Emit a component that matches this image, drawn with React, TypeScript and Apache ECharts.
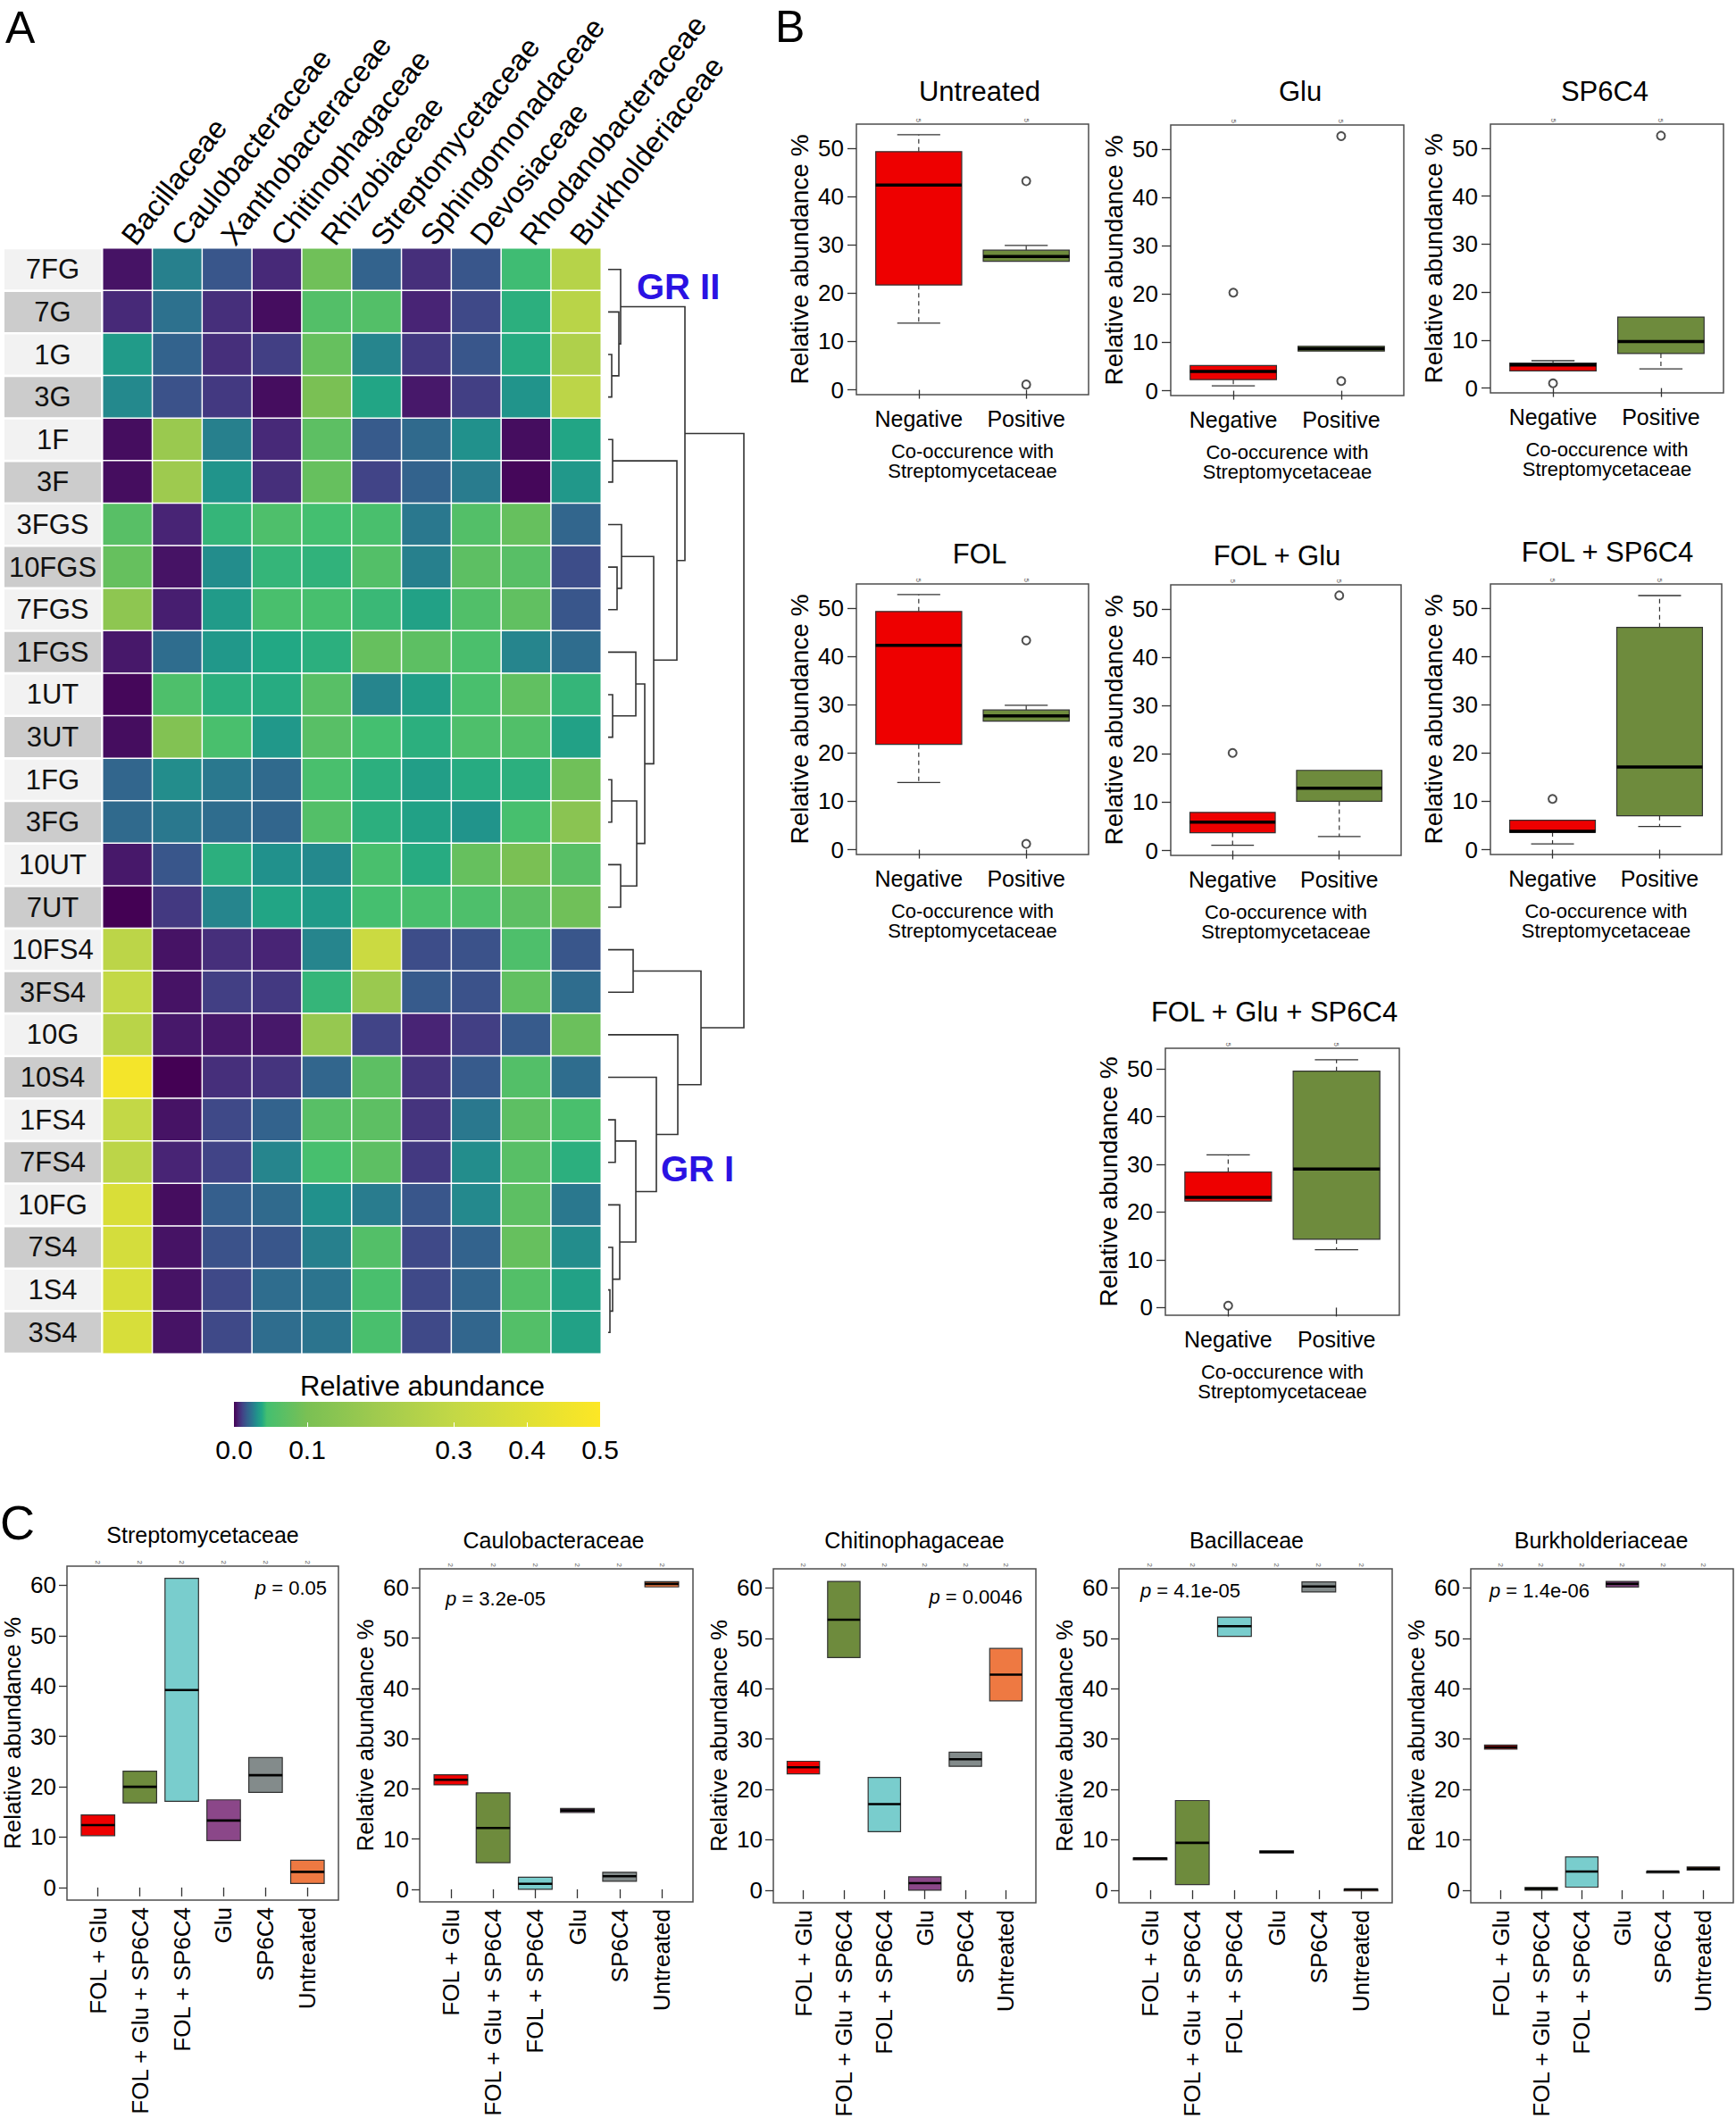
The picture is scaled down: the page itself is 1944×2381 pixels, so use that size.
import React, { useEffect, useRef } from 'react';
import * as echarts from 'echarts';

const FONT = '"Liberation Sans", Arial, Helvetica, sans-serif';

// ---------------- Panel A: heatmap ----------------
const FAMILIES = ['Bacillaceae', 'Caulobacteraceae', 'Xanthobacteraceae', 'Chitinophagaceae', 'Rhizobiaceae',
  'Streptomycetaceae', 'Sphingomonadaceae', 'Devosiaceae', 'Rhodanobacteraceae', 'Burkholderiaceae'];
const SAMPLES = ['7FG', '7G', '1G', '3G', '1F', '3F', '3FGS', '10FGS', '7FGS', '1FGS', '1UT', '3UT', '1FG', '3FG',
  '10UT', '7UT', '10FS4', '3FS4', '10G', '10S4', '1FS4', '7FS4', '10FG', '7S4', '1S4', '3S4'];
const ABUNDANCE = [
  [0.003, 0.027, 0.016, 0.007, 0.09, 0.019, 0.008, 0.016, 0.044, 0.26],
  [0.007, 0.023, 0.008, 0.002, 0.06, 0.06, 0.006, 0.013, 0.04, 0.27],
  [0.034, 0.019, 0.008, 0.011, 0.08, 0.028, 0.01, 0.016, 0.039, 0.24],
  [0.029, 0.015, 0.01, 0.002, 0.1, 0.037, 0.004, 0.011, 0.032, 0.28],
  [0.002, 0.18, 0.027, 0.007, 0.07, 0.017, 0.021, 0.031, 0.002, 0.037],
  [0.002, 0.19, 0.032, 0.008, 0.08, 0.012, 0.019, 0.026, 0.001, 0.033],
  [0.065, 0.006, 0.042, 0.055, 0.045, 0.05, 0.025, 0.06, 0.08, 0.02],
  [0.08, 0.003, 0.03, 0.042, 0.041, 0.06, 0.027, 0.07, 0.065, 0.014],
  [0.15, 0.005, 0.034, 0.05, 0.048, 0.043, 0.036, 0.058, 0.075, 0.016],
  [0.004, 0.022, 0.033, 0.038, 0.04, 0.08, 0.07, 0.052, 0.028, 0.022],
  [0.001, 0.055, 0.04, 0.039, 0.065, 0.028, 0.035, 0.05, 0.075, 0.042],
  [0.002, 0.12, 0.05, 0.033, 0.065, 0.045, 0.04, 0.055, 0.058, 0.036],
  [0.02, 0.03, 0.025, 0.021, 0.05, 0.04, 0.035, 0.039, 0.04, 0.09],
  [0.021, 0.025, 0.022, 0.02, 0.06, 0.04, 0.036, 0.032, 0.048, 0.14],
  [0.004, 0.016, 0.04, 0.031, 0.029, 0.05, 0.039, 0.08, 0.1, 0.065],
  [0.0, 0.01, 0.028, 0.037, 0.034, 0.046, 0.05, 0.055, 0.07, 0.09],
  [0.28, 0.003, 0.008, 0.006, 0.028, 0.33, 0.014, 0.015, 0.055, 0.016],
  [0.3, 0.003, 0.011, 0.01, 0.042, 0.18, 0.017, 0.015, 0.075, 0.022],
  [0.27, 0.004, 0.004, 0.004, 0.17, 0.012, 0.006, 0.011, 0.017, 0.085],
  [0.47, 0.0, 0.008, 0.009, 0.02, 0.07, 0.009, 0.017, 0.06, 0.022],
  [0.3, 0.003, 0.013, 0.019, 0.065, 0.07, 0.009, 0.025, 0.07, 0.05],
  [0.28, 0.006, 0.012, 0.028, 0.048, 0.07, 0.01, 0.03, 0.065, 0.04],
  [0.38, 0.002, 0.018, 0.021, 0.031, 0.026, 0.016, 0.029, 0.07, 0.025],
  [0.36, 0.003, 0.015, 0.016, 0.027, 0.06, 0.013, 0.019, 0.08, 0.03],
  [0.37, 0.003, 0.013, 0.022, 0.024, 0.05, 0.013, 0.02, 0.06, 0.036],
  [0.37, 0.003, 0.013, 0.022, 0.024, 0.05, 0.013, 0.02, 0.06, 0.036],
];
// hierarchical clustering merges: [childA, childB, height]; leaves 0..25, new nodes numbered from 26
const DENDRO_MERGES = [
  [2, 3, 4], [1, 26, 12], [0, 27, 14], [4, 5, 5], [7, 8, 10], [6, 30, 15], [10, 11, 5], [9, 32, 31],
  [12, 13, 4], [14, 15, 14], [34, 35, 32], [33, 36, 41], [31, 37, 51], [29, 38, 77], [28, 39, 86],
  [16, 17, 28], [24, 25, 2], [23, 42, 5], [22, 43, 13], [20, 21, 8], [45, 44, 31], [19, 46, 54],
  [18, 47, 78], [41, 48, 104], [40, 49, 152],
];
const CMAP_POS = [0, 0.006, 0.012, 0.018, 0.025, 0.031, 0.038, 0.045, 0.1, 0.2, 0.3, 0.4, 0.5];
const CMAP_COL = ['#440154', '#482475', '#414487', '#355f8d', '#2a788e', '#21918c', '#22a884', '#44bf70',
  '#7ac054', '#a2cb4e', '#c3d846', '#dfe035', '#fde725'];
const LEGEND_TICKS = [0, 0.1, 0.3, 0.4, 0.5];

// ---------------- Panel B: co-occurrence boxplots ----------------
const B_PANELS = ['Untreated', 'Glu', 'SP6C4', 'FOL', 'FOL + Glu', 'FOL + SP6C4', 'FOL + Glu + SP6C4'];
const B_GROUPS = ['Negative', 'Positive'];
// [min, q1, median, q3, max]
const B_BOXES = [
  [[13.8, 21.7, 42.4, 49.3, 52.8], [26.6, 26.6, 27.6, 28.9, 29.9]],
  [[1.0, 2.3, 4.0, 5.2, 5.2], [8.2, 8.2, 8.7, 9.2, 9.2]],
  [[3.6, 3.6, 4.8, 5.2, 5.7], [4.0, 7.2, 9.7, 14.8, 14.8]],
  [[13.9, 21.8, 42.3, 49.3, 52.8], [26.6, 26.6, 27.7, 28.9, 29.9]],
  [[1.1, 3.7, 5.9, 7.9, 7.9], [2.9, 10.2, 12.9, 16.6, 16.6]],
  [[1.2, 3.6, 3.8, 6.1, 6.1], [4.8, 7.0, 17.1, 46.0, 52.6]],
  [[22.3, 22.3, 23.1, 28.4, 32.0], [12.1, 14.3, 29.0, 49.5, 51.9]],
];
const B_OUTLIERS = [
  [[], [43.2, 1.1]],
  [[20.3], [52.7, 2.0]],
  [[1.0], [52.6]],
  [[], [43.3, 1.2]],
  [[20.2], [52.8]],
  [[10.5], []],
  [[0.4], []],
];
const B_N = ['5', '5'];
const B_TICKS = [0, 10, 20, 30, 40, 50];

// ---------------- Panel C: treatment boxplots ----------------
const C_PANELS = ['Streptomycetaceae', 'Caulobacteraceae', 'Chitinophagaceae', 'Bacillaceae', 'Burkholderiaceae'];
const C_GROUPS = ['FOL + Glu', 'FOL + Glu + SP6C4', 'FOL + SP6C4', 'Glu', 'SP6C4', 'Untreated'];
const C_PVALUES = ['0.05', '3.2e-05', '0.0046', '4.1e-05', '1.4e-06'];
// [low, median, high]
const C_BOXES = [
  [[10.3, 12.4, 14.4], [16.8, 20.0, 23.1], [17.1, 39.2, 61.4], [9.3, 13.3, 17.4], [18.9, 22.3, 25.8], [0.8, 3.1, 5.4]],
  [[20.8, 21.8, 22.8], [5.3, 12.2, 19.2], [0.0, 1.1, 2.4], [15.3, 15.7, 16.1], [1.6, 2.6, 3.4], [60.2, 60.8, 61.25]],
  [[23.1, 24.4, 25.6], [46.2, 53.7, 61.3], [11.6, 17.1, 22.4], [0.0, 1.4, 2.65], [24.6, 26.0, 27.4], [37.6, 42.8, 48.0]],
  [[6.2, 6.3, 6.4], [1.1, 9.4, 17.8], [50.4, 52.4, 54.2], [7.4, 7.6, 7.8], [59.2, 60.3, 61.2], [0.1, 0.15, 0.2]],
  [[28.0, 28.4, 28.8], [0.0, 0.3, 0.55], [0.6, 3.7, 6.6], [60.2, 60.8, 61.3], [3.65, 3.7, 3.75], [4.0, 4.3, 4.6]],
];
const C_N = '2';
const C_TICKS = [0, 10, 20, 30, 40, 50, 60];

// ---------------- styling / layout ----------------
const B_COLORS = ['#ee0000', '#6e8b3d'];
const C_COLORS = ['#ee0000', '#6e8b3d', '#79cdcd', '#8b4789', '#838b8b', '#ee7942'];
const B_LAYOUT = [
  { left: 959, top: 139, width: 260, height: 303, tx: 1097, ty: 102, ymin: -1, ymax: 55 },
  { left: 1311, top: 140, width: 261, height: 303, tx: 1456, ty: 102, ymin: -1, ymax: 55 },
  { left: 1669, top: 139, width: 261, height: 301, tx: 1797, ty: 102, ymin: -1, ymax: 55 },
  { left: 959, top: 654, width: 260, height: 303, tx: 1097, ty: 620, ymin: -1, ymax: 55 },
  { left: 1311, top: 655, width: 258, height: 303, tx: 1430, ty: 622, ymin: -1, ymax: 55 },
  { left: 1669, top: 654, width: 259, height: 303, tx: 1800, ty: 618, ymin: -1, ymax: 55 },
  { left: 1305, top: 1174, width: 262, height: 299, tx: 1427, ty: 1133, ymin: -1.6, ymax: 54.3 },
];
const C_LAYOUT = [
  { left: 73, top: 1754, width: 306, height: 374, tx: 227, ty: 1719, px: 366, py: 1778, pa: 'right' },
  { left: 470, top: 1757, width: 306, height: 373, tx: 620, ty: 1725, px: 499, py: 1790, pa: 'left' },
  { left: 866, top: 1757, width: 294, height: 374, tx: 1024, ty: 1725, px: 1145, py: 1788, pa: 'right' },
  { left: 1253, top: 1757, width: 306, height: 374, tx: 1396, ty: 1725, px: 1277, py: 1781, pa: 'left' },
  { left: 1647, top: 1757, width: 294, height: 374, tx: 1793, ty: 1725, px: 1668, py: 1781, pa: 'left' },
];

function hexRgb(h: string) {
  const n = parseInt(h.slice(1), 16);
  return [(n >> 16) & 255, (n >> 8) & 255, n & 255];
}
function cmap(v: number) {
  const k = Math.max(0, Math.min(v, CMAP_POS[CMAP_POS.length - 1]));
  let i = 0;
  while (i < CMAP_POS.length - 2 && k > CMAP_POS[i + 1]) i++;
  const t = (k - CMAP_POS[i]) / (CMAP_POS[i + 1] - CMAP_POS[i]);
  const a = hexRgb(CMAP_COL[i]);
  const b = hexRgb(CMAP_COL[i + 1]);
  return `rgb(${a.map((x, j) => Math.round(x + (b[j] - x) * t)).join(',')})`;
}

const boxRender = (half: number, medW: number, whisk: boolean) => (params: any, api: any) => {
  const x = api.value(0);
  const v = [1, 2, 3, 4, 5].map((i) => api.value(i) as number);
  const c = (xx: number, yy: number) => api.coord([xx, yy]);
  const stroke = '#333';
  const kids: any[] = [];
  if (whisk) {
    const pairs = [[v[3], v[4]], [v[1], v[0]]];
    for (const [a, b] of pairs) {
      if (Math.abs(a - b) > 1e-9) {
        const p1 = c(x, a), p2 = c(x, b);
        kids.push({ type: 'line', shape: { x1: p1[0], y1: p1[1], x2: p2[0], y2: p2[1] }, style: { stroke, lineWidth: 1.2, lineDash: [5, 4] } });
        const q1 = c(x - half / 2, b), q2 = c(x + half / 2, b);
        kids.push({ type: 'line', shape: { x1: q1[0], y1: q1[1], x2: q2[0], y2: q2[1] }, style: { stroke, lineWidth: 1.3 } });
      }
    }
  }
  const tl = c(x - half, v[3]), br = c(x + half, v[1]);
  kids.push({
    type: 'rect',
    shape: { x: tl[0], y: tl[1], width: br[0] - tl[0], height: Math.max(br[1] - tl[1], 2) },
    style: { fill: api.visual('color'), stroke, lineWidth: 1.2 },
  });
  const m1 = c(x - half, v[2]), m2 = c(x + half, v[2]);
  kids.push({ type: 'line', shape: { x1: m1[0], y1: m1[1], x2: m2[0], y2: m2[1] }, style: { stroke: '#000', lineWidth: medW } });
  return { type: 'group', children: kids };
};

function buildOption() {
  const grid: any[] = [];
  const xAxis: any[] = [];
  const yAxis: any[] = [];
  const series: any[] = [];
  const graphic: any[] = [];
  const txt = (text: string, x: number, y: number, size: number, align = 'center', extra: any = {}) =>
    graphic.push({
      type: 'text', x, y, silent: true,
      style: {
        text, fontSize: size, fontFamily: FONT, fill: '#000',
        align, textAlign: align, verticalAlign: 'middle', textVerticalAlign: 'middle', ...extra,
      },
    });

  // ---- heatmap
  grid.push({ left: 115, top: 278, width: 558, height: 1238 });
  xAxis.push({
    gridIndex: 0, type: 'category', data: FAMILIES, position: 'top',
    axisLine: { show: false }, axisTick: { show: false }, splitLine: { show: false },
    axisLabel: { interval: 0, rotate: -52, margin: 8, fontSize: 33, fontFamily: FONT, color: '#000' },
  });
  const richBox = (bg: string) => ({
    backgroundColor: bg, width: 108, height: 45, lineHeight: 45, align: 'center',
    fontSize: 31, fontFamily: FONT, color: '#111',
  });
  yAxis.push({
    gridIndex: 0, type: 'category', data: SAMPLES, inverse: true,
    axisLine: { show: false }, axisTick: { show: false }, splitLine: { show: false },
    axisLabel: {
      interval: 0, margin: 2,
      formatter: (v: string, i: number) => `{${i % 2 ? 'd' : 'l'}|${v}}`,
      rich: { l: richBox('#f2f2f2'), d: richBox('#cccccc') },
    },
  });
  const heat: any[] = [];
  ABUNDANCE.forEach((row, r) => row.forEach((v, c) => heat.push([c, r, v])));
  series.push({
    type: 'heatmap', xAxisIndex: 0, yAxisIndex: 0, data: heat,
    itemStyle: { borderColor: '#ffffff', borderWidth: 1.5 }, emphasis: { disabled: true },
  });

  // ---- dendrogram
  grid.push({ left: 681, top: 278, width: 152, height: 1238 });
  xAxis.push({ gridIndex: 1, type: 'value', min: 0, max: 152, show: false });
  yAxis.push({ gridIndex: 1, type: 'value', min: -0.5, max: SAMPLES.length - 0.5, inverse: true, show: false });
  const nodeH = SAMPLES.map(() => 0);
  const nodeY = SAMPLES.map((_, i) => i);
  const segs = DENDRO_MERGES.map(([a, b, h]) => {
    const s = [nodeH[a], nodeY[a], nodeH[b], nodeY[b], h];
    nodeH.push(h);
    nodeY.push((nodeY[a] + nodeY[b]) / 2);
    return s;
  });
  series.push({
    type: 'custom', xAxisIndex: 1, yAxisIndex: 1, data: segs, encode: { x: [0, 2, 4], y: [1, 3] }, clip: false,
    renderItem: (params: any, api: any) => {
      const p1 = api.coord([api.value(0), api.value(1)]);
      const p2 = api.coord([api.value(4), api.value(1)]);
      const p3 = api.coord([api.value(4), api.value(3)]);
      const p4 = api.coord([api.value(2), api.value(3)]);
      return { type: 'polyline', shape: { points: [p1, p2, p3, p4] }, style: { stroke: '#333', lineWidth: 1.6, fill: null } };
    },
  });
  txt('GR II', 713, 321, 40, 'left', { fontWeight: 'bold', fill: '#2a12e3' });
  txt('GR I', 740, 1309, 40, 'left', { fontWeight: 'bold', fill: '#2a12e3' });

  // ---- colour bar
  grid.push({ left: 262, top: 1570, width: 410, height: 28 });
  xAxis.push({
    gridIndex: 2, type: 'value', min: 0, max: 0.5, interval: 0.1, z: 5,
    axisLine: { show: false }, splitLine: { show: false },
    axisTick: { show: true, inside: true, length: 5, customValues: [0.1, 0.3, 0.4], lineStyle: { color: '#ffffff', width: 1 } },
    axisLabel: {
      showMinLabel: true, showMaxLabel: true, margin: 10, fontSize: 30, fontFamily: FONT, color: '#000',
      formatter: (v: number) => (LEGEND_TICKS.some((t) => Math.abs(t - v) < 1e-6) ? v.toFixed(1) : ''),
    },
  });
  yAxis.push({ gridIndex: 2, type: 'value', min: 0, max: 1, show: false });
  const stops = CMAP_POS.map((p, i) => ({ offset: p / CMAP_POS[CMAP_POS.length - 1], color: CMAP_COL[i] }));
  series.push({
    type: 'custom', xAxisIndex: 2, yAxisIndex: 2, data: [[0, CMAP_POS[CMAP_POS.length - 1]]], encode: { x: [0, 1] },
    renderItem: (params: any, api: any) => {
      const a = api.coord([api.value(0), 1]);
      const b = api.coord([api.value(1), 0]);
      return {
        type: 'rect', shape: { x: a[0], y: a[1], width: b[0] - a[0], height: b[1] - a[1] },
        style: { fill: new echarts.graphic.LinearGradient(0, 0, 1, 0, stops) },
      };
    },
  });
  txt('Relative abundance', 473, 1552, 31);

  // ---- panel B
  B_PANELS.forEach((name, p) => {
    const L = B_LAYOUT[p];
    grid.push({ left: L.left, top: L.top, width: L.width, height: L.height, show: true, borderColor: '#4d4d4d', borderWidth: 1.5, backgroundColor: 'rgba(0,0,0,0)' });
    const g = grid.length - 1;
    const xb = xAxis.length;
    const cats = B_GROUPS.map((_, i) => i + 1);
    xAxis.push({
      gridIndex: g, type: 'value', min: 0.42, max: B_GROUPS.length + 0.58,
      axisLine: { show: false }, splitLine: { show: false },
      axisTick: { show: true, customValues: cats, length: 10, lineStyle: { color: '#333', width: 1.3 } },
      axisLabel: { customValues: cats, formatter: (v: number) => B_GROUPS[Math.round(v) - 1], fontSize: 25, fontFamily: FONT, color: '#000', margin: 14 },
      name: 'Co-occurence with\nStreptomycetaceae', nameLocation: 'middle', nameGap: 52,
      nameTextStyle: { fontSize: 22, lineHeight: 22, fontFamily: FONT, color: '#000' },
    });
    xAxis.push({
      gridIndex: g, type: 'value', position: 'top', min: 0.42, max: B_GROUPS.length + 0.58,
      axisLine: { show: false }, splitLine: { show: false }, axisTick: { show: false },
      axisLabel: { customValues: cats, formatter: (v: number) => B_N[Math.round(v) - 1], fontSize: 8, rotate: 90, margin: 2, color: '#555', fontFamily: FONT },
    });
    const yi = yAxis.length;
    yAxis.push({
      gridIndex: g, type: 'value', min: L.ymin, max: L.ymax,
      axisLine: { show: false }, splitLine: { show: false },
      axisTick: { show: true, customValues: B_TICKS, length: 10, lineStyle: { color: '#333', width: 1.3 } },
      axisLabel: { customValues: B_TICKS, fontSize: 26, fontFamily: FONT, color: '#000', margin: 14 },
      name: 'Relative abundance %', nameLocation: 'middle', nameRotate: 90, nameGap: 50,
      nameTextStyle: { fontSize: 28, fontFamily: FONT, color: '#000' },
    });
    series.push({
      type: 'custom', xAxisIndex: xb, yAxisIndex: yi, clip: false, encode: { x: 0, y: [1, 2, 3, 4, 5] },
      renderItem: boxRender(0.4, 3.5, true),
      data: B_BOXES[p].map((b, k) => ({ value: [k + 1, ...b], itemStyle: { color: B_COLORS[k] } })),
    });
    series.push({
      type: 'scatter', xAxisIndex: xb, yAxisIndex: yi, symbol: 'emptyCircle', symbolSize: 9,
      itemStyle: { color: '#222', borderWidth: 1.2 },
      data: B_OUTLIERS[p].flatMap((arr, k) => arr.map((v) => [k + 1, v])),
    });
    txt(name, L.tx, L.ty, 31);
  });

  // ---- panel C
  C_PANELS.forEach((name, p) => {
    const L = C_LAYOUT[p];
    grid.push({ left: L.left, top: L.top, width: L.width, height: L.height, show: true, borderColor: '#4d4d4d', borderWidth: 1.5, backgroundColor: 'rgba(0,0,0,0)' });
    const g = grid.length - 1;
    const xb = xAxis.length;
    const cats = C_GROUPS.map((_, i) => i + 1);
    xAxis.push({
      gridIndex: g, type: 'value', min: 0.26, max: C_GROUPS.length + 0.74,
      axisLine: { show: false }, splitLine: { show: false },
      axisTick: { show: true, customValues: cats, length: 10, lineStyle: { color: '#333', width: 1.3 } },
      axisLabel: { customValues: cats, formatter: (v: number) => C_GROUPS[Math.round(v) - 1], rotate: 90, fontSize: 26, fontFamily: FONT, color: '#000', margin: 8 },
    });
    xAxis.push({
      gridIndex: g, type: 'value', position: 'top', min: 0.26, max: C_GROUPS.length + 0.74,
      axisLine: { show: false }, splitLine: { show: false }, axisTick: { show: false },
      axisLabel: { customValues: cats, formatter: () => C_N, fontSize: 8, rotate: 90, margin: 2, color: '#555', fontFamily: FONT },
    });
    const yi = yAxis.length;
    yAxis.push({
      gridIndex: g, type: 'value', min: -2.5, max: 63.8,
      axisLine: { show: false }, splitLine: { show: false },
      axisTick: { show: true, customValues: C_TICKS, length: 9, lineStyle: { color: '#333', width: 1.3 } },
      axisLabel: { customValues: C_TICKS, fontSize: 26, fontFamily: FONT, color: '#000', margin: 12 },
      name: 'Relative abundance %', nameLocation: 'middle', nameRotate: 90, nameGap: 48,
      nameTextStyle: { fontSize: 26, fontFamily: FONT, color: '#000' },
    });
    series.push({
      type: 'custom', xAxisIndex: xb, yAxisIndex: yi, clip: false, encode: { x: 0, y: [1, 2, 3, 4, 5] },
      renderItem: boxRender(0.4, 2.6, false),
      data: C_BOXES[p].map((b, k) => ({ value: [k + 1, b[0], b[0], b[1], b[2], b[2]], itemStyle: { color: C_COLORS[k] } })),
    });
    txt(name, L.tx, L.ty, 25);
    graphic.push({
      type: 'text', x: L.px, y: L.py, silent: true,
      style: {
        text: `{i|p} = ${C_PVALUES[p]}`, fontSize: 22, fontFamily: FONT, fill: '#000',
        align: L.pa, textAlign: L.pa, verticalAlign: 'middle', textVerticalAlign: 'middle',
        rich: { i: { fontStyle: 'italic', fontSize: 22, fontFamily: FONT, fill: '#000', color: '#000' } },
      },
    });
  });

  // panel letters
  txt('A', 6, 31, 50, 'left');
  txt('B', 868, 30, 50, 'left');
  txt('C', 0, 1705, 54, 'left');

  const colors = Array.from({ length: 501 }, (_, i) => cmap(i / 1000));
  return {
    animation: false,
    backgroundColor: '#ffffff',
    textStyle: { fontFamily: FONT },
    grid, xAxis, yAxis, series, graphic,
    visualMap: { type: 'continuous', show: false, min: 0, max: 0.5, seriesIndex: 0, dimension: 2, inRange: { color: colors } },
  };
}

export default function App() {
  const ref = useRef<HTMLDivElement>(null);
  useEffect(() => {
    const chart = echarts.init(ref.current as HTMLDivElement, null, { renderer: 'svg' });
    chart.setOption(buildOption() as any);
    return () => chart.dispose();
  }, []);
  return <div ref={ref} style={{ position: 'absolute', left: 0, top: 0, width: 1944, height: 2381, background: '#fff' }} />;
}
